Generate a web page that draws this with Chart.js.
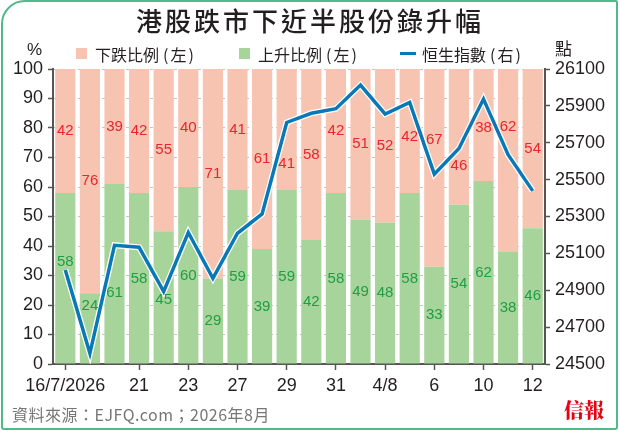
<!DOCTYPE html>
<html lang="zh-Hant">
<head>
<meta charset="UTF-8">
<title>港股跌市下近半股份錄升幅</title>
<script src="https://cdn.jsdelivr.net/npm/chart.js@4.4.1/dist/chart.umd.min.js"></script>
<style>
  body { margin: 0; background: #fff; }
  #wrap { position: relative; width: 620px; height: 431px; overflow: hidden; background: #fff;
          font-family: "Noto Sans CJK TC", "Noto Sans", sans-serif; color: #231f20; }
  #c { position: absolute; left: 0; top: 0; }
  .frame { position: absolute; left: 1px; top: 0; width: 617px; height: 430px; box-sizing: border-box;
           border: 2px solid #4fba8a; border-radius: 24px 2px 3px 3px; pointer-events: none; }
  .title { position: absolute; left: 0; width: 620px; top: 5px; text-align: center;
           font-size: 26px; line-height: 30px; font-weight: 500; letter-spacing: 3px; }
  .lg { position: absolute; top: 44px; font-size: 16px; line-height: 20px; white-space: nowrap; }
  .lg .p1 { margin-left: 4px; }
  .lg .c { margin: 0 2px; }
  .sw { position: absolute; width: 11px; height: 11px; top: 48px; }
  .unit { position: absolute; font-size: 17px; line-height: 20px; }
  .foot { position: absolute; left: 12px; top: 403px; font-size: 16px; line-height: 22px; color: #767676;
          letter-spacing: 0.5px; }
  .logo { position: absolute; left: 564px; top: 398px; font-size: 20px; line-height: 24px; font-weight: 900;
          color: #e60012; font-family: "Noto Serif CJK TC", "Noto Sans CJK TC", serif; }
</style>
</head>
<body>
<div id="wrap">
  <canvas id="c" width="620" height="431"></canvas>
  <div class="title">港股跌市下近半股份錄升幅</div>

  <div class="unit" style="left:27px;top:40px;font-family:'Liberation Sans',Arial,sans-serif;">%</div>
  <div class="unit" style="left:555px;top:38px;">點</div>

  <div class="sw" style="left:76px;background:#f7c4b2;"></div>
  <div class="lg" style="left:95px;">下跌比例<span class="p1">(</span><span class="c">左</span>)</div>
  <div class="sw" style="left:239px;background:#a7d49a;"></div>
  <div class="lg" style="left:258px;">上升比例<span class="p1">(</span><span class="c">左</span>)</div>
  <div style="position:absolute;left:400px;top:52px;width:16px;height:3px;background:#0a77b6;"></div>
  <div class="lg" style="left:422px;">恒生指數<span class="p1">(</span><span class="c">右</span>)</div>

  <div class="foot">資料來源：EJFQ.com；2026年8月</div>
  <div class="logo">信報</div>
  <div class="frame"></div>
</div>

<script>
// 交易日 (只顯示部分日期)
const dates = ['16/7/2026', '', '', '21', '', '23', '', '27', '', '29',
               '', '31', '', '4/8', '', '6', '', '10', '', '12'];
// 上升股份比例 (%)
const upPct = [58, 24, 61, 58, 45, 60, 29, 59, 39, 59, 42, 58, 49, 48, 58, 33, 54, 62, 38, 46];
// 下跌股份比例 (%)
const downPct = [42, 76, 39, 42, 55, 40, 71, 41, 61, 41, 58, 42, 51, 52, 42, 67, 46, 38, 62, 54];
// 恒生指數收市 (點)
const hsi = [25010, 24558, 25144, 25133, 24893, 25213, 24965, 25209, 25314, 25810,
             25860, 25885, 26013, 25856, 25919, 25530, 25669, 25937, 25635, 25439];

const pctTicks = [0, 10, 20, 30, 40, 50, 60, 70, 80, 90, 100];
const hsiTicks = [24500, 24700, 24900, 25100, 25300, 25500, 25700, 25900, 26100];

const axisColor = '#555';
const tickFont = { family: 'Liberation Sans, Arial, sans-serif', size: 18 };

// 固定座標軸大小, 令繪圖區與原圖對齊
function fixSize(w, h) {
  return function (scale) {
    if (w !== null) scale.width = w;
    if (h !== null) scale.height = h;
    scale.paddingTop = 0; scale.paddingBottom = 0;
    scale.paddingLeft = 0; scale.paddingRight = 0;
  };
}

// 柱內數字, 碰到指數線時移開
const barLabels = {
  id: 'barLabels',
  afterDatasetsDraw(chart) {
    const { ctx, scales: { x, y, y1 } } = chart;
    const lineY = hsi.map(v => y1.getPixelForValue(v));
    const xs = hsi.map((v, i) => x.getPixelForValue(i));
    const n = xs.length;
    function lineAt(px) {
      for (let i = 0; i < n - 1; i++) {
        if (px >= xs[i] && px <= xs[i + 1]) {
          const t = (px - xs[i]) / (xs[i + 1] - xs[i]);
          return lineY[i] + t * (lineY[i + 1] - lineY[i]);
        }
      }
      return null;
    }
    function place(i, lo, hi) {
      const cx = xs[i];
      const y0 = y.getPixelForValue((lo + hi) / 2);
      const top = y.getPixelForValue(hi), bot = y.getPixelForValue(lo);
      const ys = [lineAt(cx - 9), lineAt(cx), lineAt(cx + 9)].filter(v => v !== null);
      const mn = Math.min(...ys) - 1, mx = Math.max(...ys) + 1;
      if (y0 + 7 < mn || y0 - 7 > mx) return y0;
      const L = lineY[i];
      const prev = i > 0 ? lineY[i - 1] : null;
      const next = i < n - 1 ? lineY[i + 1] : null;
      let dir;
      if (prev !== null && next !== null && ((L > prev && L > next) || (L < prev && L < next))) {
        dir = y0 < L ? -1 : 1;
      } else {
        const s = (next !== null ? next : L) - (prev !== null ? prev : L);
        dir = s > 0 ? -1 : 1;
      }
      const cand = dir < 0 ? [mn - 7, mx + 7] : [mx + 7, mn - 7];
      for (const c of cand) {
        if (c - 7 >= top - 6 && c + 7 <= bot + 6) return c;
      }
      return y0;
    }
    ctx.save();
    ctx.font = '15px "Liberation Sans", Arial, sans-serif';
    ctx.textAlign = 'center';
    ctx.textBaseline = 'middle';
    upPct.forEach((u, i) => {
      ctx.fillStyle = '#1f9e45';
      ctx.fillText(String(u), xs[i], place(i, 0, u));
      ctx.fillStyle = '#e8262e';
      ctx.fillText(String(downPct[i]), xs[i], place(i, u, u + downPct[i]));
    });
    ctx.restore();
  }
};

new Chart(document.getElementById('c'), {
  data: {
    labels: dates,
    datasets: [
      { type: 'line', label: '恒生指數(右)', data: hsi, yAxisID: 'y1', order: 0,
        borderColor: '#0a77b6', borderWidth: 3.5, pointRadius: 0, tension: 0,
        borderJoinStyle: 'miter', fill: false },
      { type: 'line', label: '', data: hsi, yAxisID: 'y1', order: 1,
        borderColor: '#ffffff', borderWidth: 6, pointRadius: 0, tension: 0,
        borderJoinStyle: 'miter', fill: false },
      { type: 'bar', label: '上升比例(左)', data: upPct, yAxisID: 'y', order: 2, stack: 'pct',
        backgroundColor: '#a7d49a', barPercentage: 0.82, categoryPercentage: 1 },
      { type: 'bar', label: '下跌比例(左)', data: downPct, yAxisID: 'y', order: 3, stack: 'pct',
        backgroundColor: '#f7c4b2', barPercentage: 0.82, categoryPercentage: 1 }
    ]
  },
  options: {
    responsive: false,
    animation: false,
    layout: { padding: { top: 69, left: 0, right: 0, bottom: 0 } },
    plugins: { legend: { display: false }, tooltip: { enabled: false } },
    scales: {
      x: {
        stacked: true,
        offset: true,
        afterFit: fixSize(null, 67),
        grid: {
          offset: false, drawOnChartArea: false, tickLength: 6, tickWidth: 1.5,
          tickColor: c => dates[c.index] ? axisColor : 'rgba(0,0,0,0)'
        },
        border: { color: axisColor, width: 2 },
        ticks: { autoSkip: false, maxRotation: 0, padding: 5, color: '#231f20', font: tickFont }
      },
      y: {
        position: 'left',
        stacked: true,
        min: 0, max: 100,
        afterFit: fixSize(53, null),
        afterBuildTicks: s => { s.ticks = pctTicks.map(v => ({ value: v })); },
        grid: { color: '#c4c4c4', lineWidth: 1, tickLength: 5, tickColor: axisColor, tickWidth: 1.5 },
        border: { color: axisColor, width: 2, dash: [3, 3] },
        ticks: { padding: 5, color: '#231f20', font: tickFont }
      },
      y1: {
        position: 'right',
        min: 24500, max: 26100,
        afterFit: fixSize(75, null),
        afterBuildTicks: s => { s.ticks = hsiTicks.map(v => ({ value: v })); },
        grid: { drawOnChartArea: false, tickLength: 5, tickColor: axisColor, tickWidth: 1.5 },
        border: { color: axisColor, width: 2 },
        ticks: { padding: 5, color: '#231f20', font: tickFont, callback: v => String(v) }
      }
    }
  },
  plugins: [barLabels]
});
</script>
</body>
</html>
